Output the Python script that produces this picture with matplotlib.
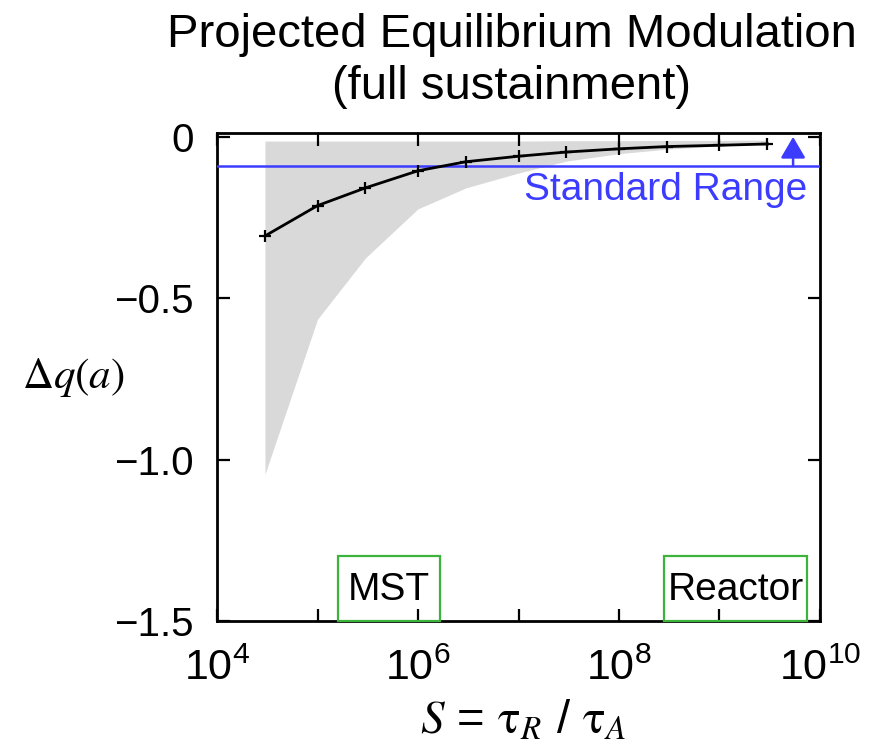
import numpy as np
import matplotlib
matplotlib.use("Agg")
import matplotlib.pyplot as plt
from matplotlib.patches import Rectangle

# ── Data ──────────────────────────────────────────────────────────────────────
S_vals = [3e4, 1e5, 3e5, 1e6, 3e6, 1e7, 3e7, 1e8, 3e8, 1e9, 3e9]
dq_vals = [-0.307, -0.213, -0.158, -0.105, -0.077, -0.060,
           -0.047, -0.037, -0.030, -0.026, -0.022]
band_upper = [-0.013, -0.013, -0.013, -0.013, -0.013, -0.013,
              -0.012, -0.012, -0.011, -0.011, -0.010]
band_lower = [-1.045, -0.565, -0.375, -0.223, -0.158, -0.112,
              -0.075, -0.052, -0.038, -0.028, -0.022]

standard_level = -0.089
arrow_x = 5.4e9

# devices: (label, S_min, S_max, top)
devices = [("MST", 1.6e5, 1.66e6, -1.30),
           ("Reactor", 2.8e8, 7.4e9, -1.30)]

xtick_pos = [10.0 ** k for k in range(4, 11)]
xtick_lab = [r"$\mathregular{10^{%d}}$" % k if k % 2 == 0 else "" for k in range(4, 11)]
ytick_pos = [0.0, -0.5, -1.0, -1.5]
ytick_lab = ["0", "\u22120.5", "\u22121.0", "\u22121.5"]

BLUE = "#3c3cff"
GREEN = "#3cb43c"

plt.rcParams["font.family"] = ["Liberation Sans", "DejaVu Sans"]
plt.rcParams["mathtext.fontset"] = "stix"

fig = plt.figure(figsize=(8.88, 7.51), dpi=100)
ax = fig.add_axes([0.2444, 0.1731, 0.6790, 0.6498])

# ── Uncertainty band + curve ─────────────────────────────────────────────────
ax.fill_between(S_vals, band_lower, band_upper, color="#d9d9d9", linewidth=0, zorder=1)
ax.plot(S_vals, dq_vals, color="black", linewidth=2.0, marker="+",
        markersize=8, markeredgewidth=1.6, zorder=4)

# ── Standard range line + arrow ──────────────────────────────────────────────
ax.axhline(standard_level, color=BLUE, linewidth=1.8, zorder=3)
ax.annotate("", xy=(arrow_x, 0.0), xytext=(arrow_x, standard_level),
            arrowprops=dict(arrowstyle="-|>,head_length=0.65,head_width=0.38",
                            color=BLUE, lw=1.8, mutation_scale=20,
                            shrinkA=0, shrinkB=0),
            zorder=5)
ax.text(7.4e9, -0.195, "Standard Range", color=BLUE, fontsize=28,
        ha="right", va="baseline", zorder=5)

# ── Device boxes ─────────────────────────────────────────────────────────────
for name, x0, x1, top in devices:
    ax.add_patch(Rectangle((x0, -1.5), x1 - x0, top + 1.5, fill=False,
                           edgecolor=GREEN, linewidth=1.6, zorder=5, clip_on=False))
    ax.text(np.sqrt(x0 * x1), -1.405, name, fontsize=28, ha="center",
            va="center", zorder=6)

# ── Axes ─────────────────────────────────────────────────────────────────────
ax.set_xscale("log")
ax.set_xlim(1e4, 1e10)
ax.set_ylim(-1.5, 0.012)
ax.set_xticks(xtick_pos)
ax.set_xticklabels(xtick_lab)
ax.xaxis.set_minor_locator(matplotlib.ticker.NullLocator())
ax.set_yticks(ytick_pos)
ax.set_yticklabels(ytick_lab)

ax.tick_params(direction="in", length=9, width=1.6, top=True, right=True)
ax.tick_params(axis="y", pad=17, labelsize=29)
ax.tick_params(axis="x", pad=20, labelsize=31)
for sp in ax.spines.values():
    sp.set_linewidth(2.0)

ax.set_ylabel(r"$\Delta q(a)$", fontsize=31, rotation=0, va="center", ha="center")
ax.yaxis.set_label_coords(-0.239, 0.498)
ax.set_xlabel(r"$S$ = $\mathrm{\tau}_R$ / $\mathrm{\tau}_A$", fontsize=34, va="center")
ax.xaxis.set_label_coords(0.507, -0.207)

fig.text(0.576, 1 - 47 / 751, "Projected Equilibrium Modulation", fontsize=34,
         ha="center", va="baseline")
fig.text(0.576, 1 - 99 / 751, "(full sustainment)", fontsize=34,
         ha="center", va="baseline")

fig.savefig("out.png", dpi=100)
